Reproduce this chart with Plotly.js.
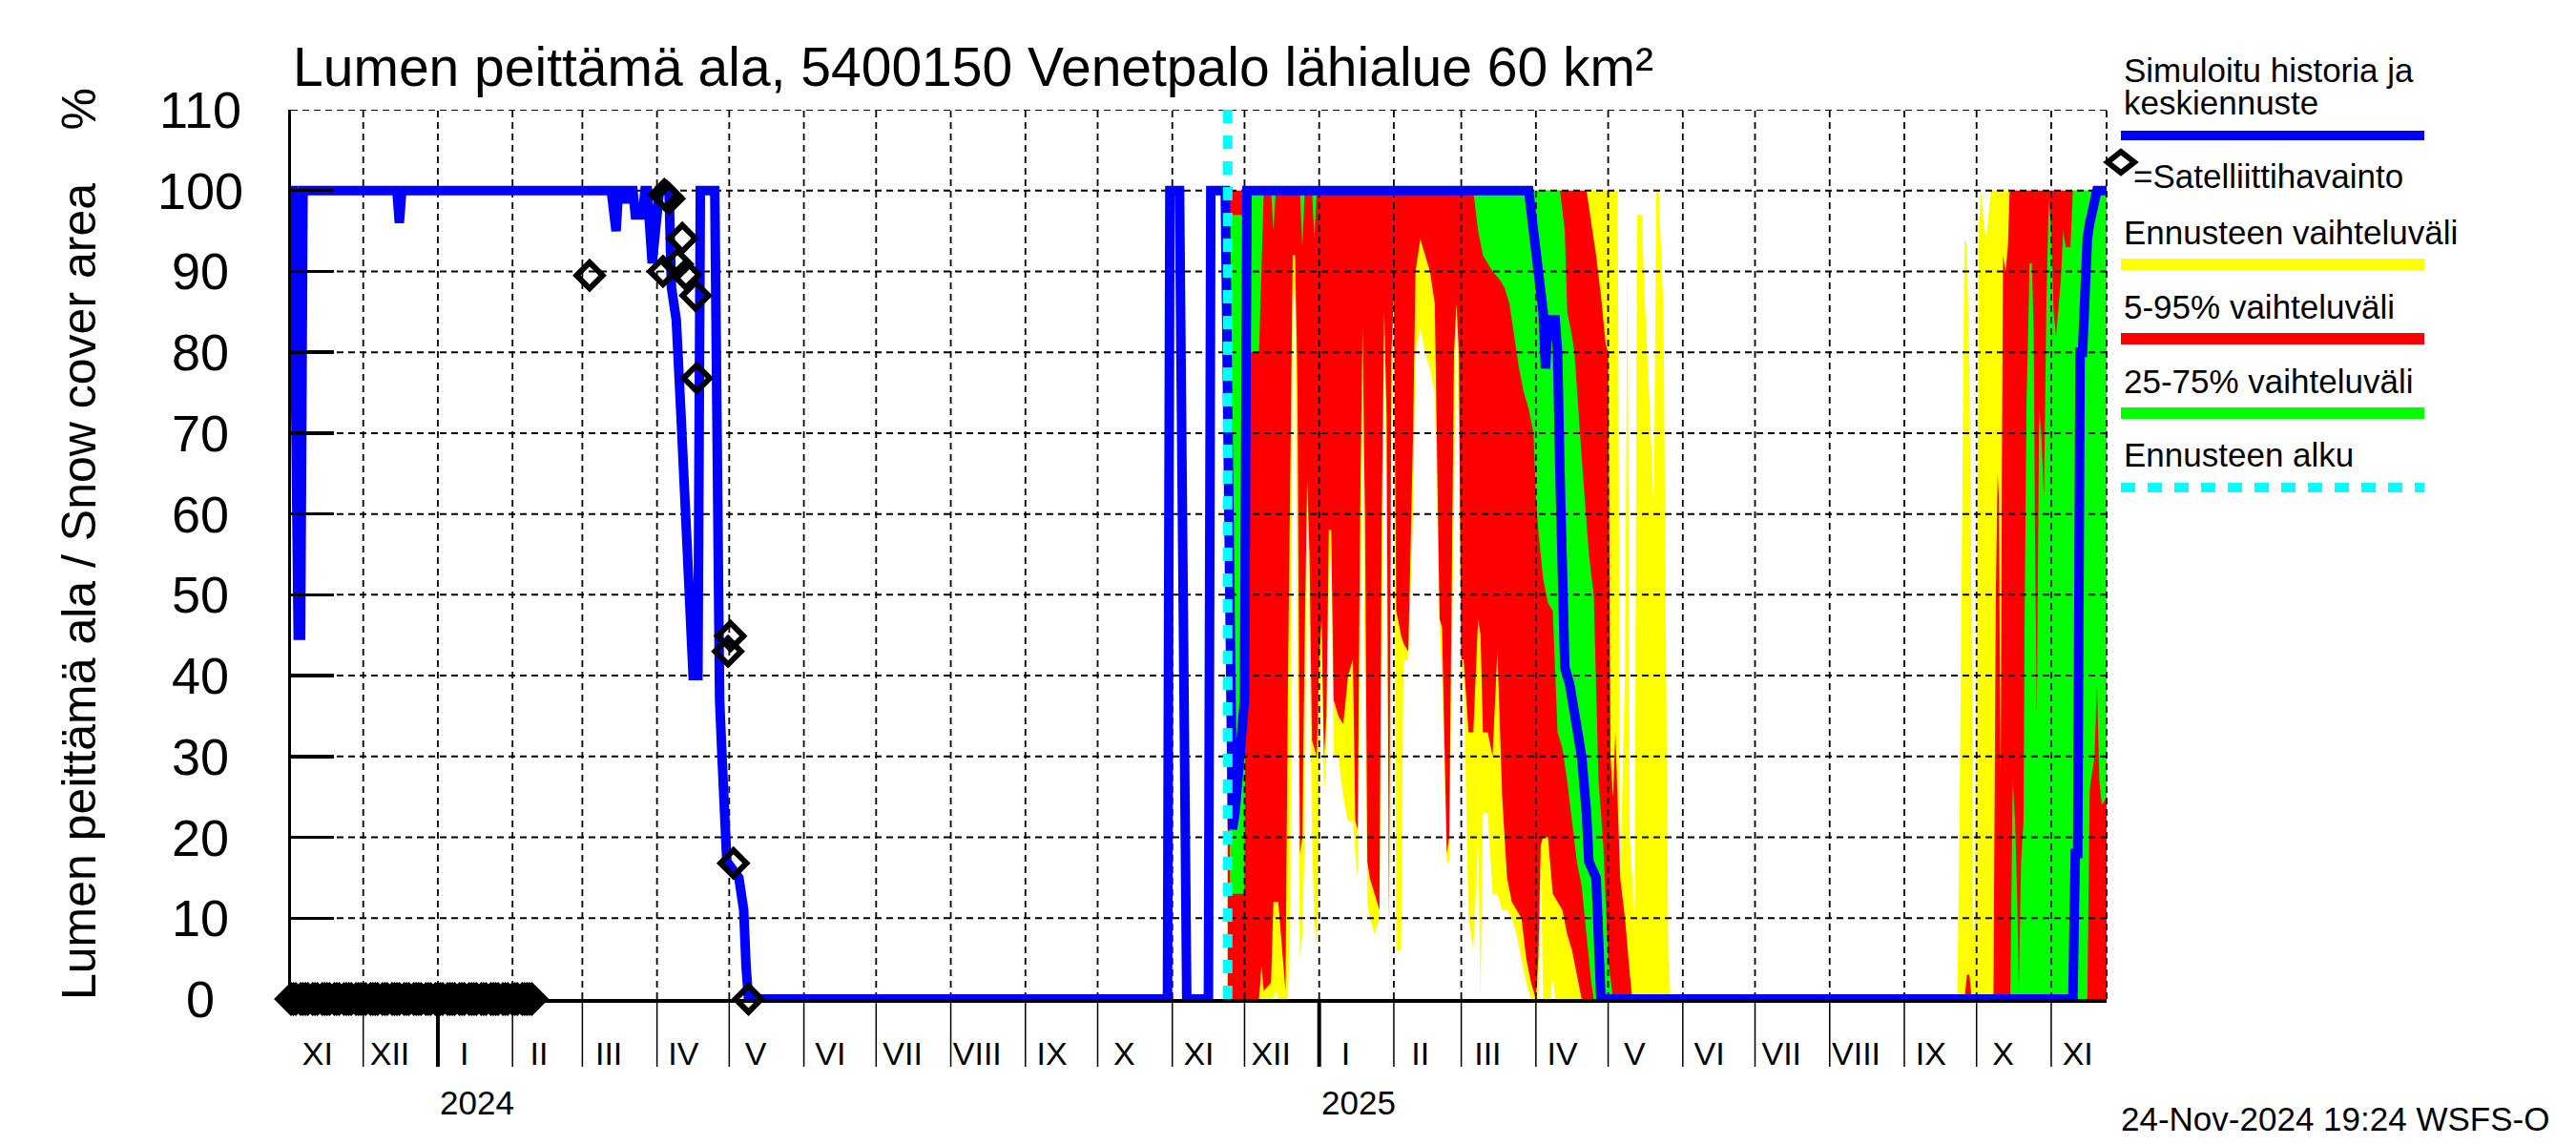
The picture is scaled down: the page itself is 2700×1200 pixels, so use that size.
<!DOCTYPE html>
<html><head><meta charset="utf-8">
<script src="https://cdn.plot.ly/plotly-3.0.1.min.js"></script>
<style>html,body{margin:0;padding:0;background:#fff}</style>
</head><body>
<div id="chart" style="width:2700px;height:1200px"></div>
<script>
// ---------- axis / labels ----------
const xStart = '2023-11-01';
const xEnd = '2025-11-24';
const forecastStart = '2024-11-24';
const monthLabels = ['XI','XII','I','II','III','IV','V','VI','VII','VIII','IX','X','XI','XII','I','II','III','IV','V','VI','VII','VIII','IX','X','XI'];
const yearLabels = ['2024','2025'];
const yearStarts = ['2024-01-01','2025-01-01'];
const yTicks = [0,10,20,30,40,50,60,70,80,90,100,110];
const titleText = 'Lumen peittämä ala, 5400150 Venetpalo lähialue 60 km²';
const yTitleText = 'Lumen peittämä ala / Snow cover area\u00a0\u00a0\u00a0\u00a0%';
const stampText = '24-Nov-2024 19:24 WSFS-O';
const legendTexts = ['Simuloitu historia ja','keskiennuste','=Satelliittihavainto','Ennusteen vaihteluväli','5-95% vaihteluväli','25-75% vaihteluväli','Ennusteen alku'];

// ---------- simulated history + median forecast ----------
const historySeries = [
['2023-11-01',100],['2023-11-02',100],['2023-11-04',45],['2023-11-05',45],['2023-11-06',100],
['2023-12-15',100],['2023-12-16',96],['2023-12-17',100],
['2024-03-13',100],['2024-03-15',95],['2024-03-16',100],['2024-03-18',100],['2024-03-19',98.5],['2024-03-20',100],
['2024-03-22',100],['2024-03-23',97],['2024-03-26',97],['2024-03-27',100],['2024-03-28',100],['2024-03-30',91],
['2024-04-02',100],['2024-04-06',100],['2024-04-07',88],['2024-04-09',84],['2024-04-11',72],['2024-04-13',58],
['2024-04-15',48],['2024-04-16',40],['2024-04-18',40],['2024-04-19',100],['2024-04-25',100],['2024-04-26',45],
['2024-04-27',37],['2024-04-28',30],['2024-04-29',23],['2024-04-30',17],['2024-05-05',15],['2024-05-07',11],
['2024-05-08',4],['2024-05-09',0],
['2024-10-30',0],['2024-10-31',100],['2024-11-04',100],['2024-11-07',0],['2024-11-16',0],['2024-11-17',100],
['2024-11-23',100],['2024-11-24',75]
];
const medianSeries = [
['2024-11-24',75],['2024-11-26',21],['2024-11-27',23],['2024-11-30',35],['2024-12-01',37],['2024-12-02',100],
['2025-03-29',100],['2025-03-31',95],['2025-04-02',89],['2025-04-04',85],['2025-04-05',78],['2025-04-06',84],
['2025-04-09',84],['2025-04-10',80],['2025-04-11',65],['2025-04-12',50],['2025-04-13',41],['2025-04-15',39],
['2025-04-17',35],['2025-04-20',30],['2025-04-22',23],['2025-04-23',17],['2025-04-26',15],['2025-04-27',8],
['2025-04-28',0],['2025-11-10',0],['2025-11-11',18],['2025-11-12',18],['2025-11-12 12:00',58],['2025-11-13',80],
['2025-11-14',80],['2025-11-15',88],['2025-11-16',94],['2025-11-17',96],['2025-11-19',99],['2025-11-20',100],
['2025-11-24',100]
];

// ---------- satellite observations ----------
const obsZeroDates = [
'2023-11-01','2023-11-02','2023-11-03','2023-11-05','2023-11-06','2023-11-07','2023-11-08','2023-11-10','2023-11-11','2023-11-12',
'2023-11-14','2023-11-15','2023-11-16','2023-11-17','2023-11-19','2023-11-20','2023-11-21','2023-11-23','2023-11-24','2023-11-25',
'2023-11-26','2023-11-28','2023-11-29','2023-11-30','2023-12-01','2023-12-02','2023-12-04','2023-12-05','2023-12-06','2023-12-07',
'2023-12-09','2023-12-10','2023-12-11','2023-12-13','2023-12-14','2023-12-15','2023-12-16','2023-12-18','2023-12-19','2023-12-20',
'2023-12-22','2023-12-23','2023-12-24','2023-12-25','2023-12-27','2023-12-28','2023-12-29','2023-12-31','2024-01-01','2024-01-02',
'2024-01-03','2024-01-05','2024-01-06','2024-01-07','2024-01-08','2024-01-10','2024-01-11','2024-01-12','2024-01-14','2024-01-15',
'2024-01-16','2024-01-17','2024-01-19','2024-01-20','2024-01-21','2024-01-23','2024-01-24','2024-01-25','2024-01-26','2024-01-28',
'2024-01-29','2024-01-30','2024-02-01','2024-02-02','2024-02-03','2024-02-05','2024-02-06','2024-02-07','2024-02-08','2024-02-09'
];
const obsZeroValues = obsZeroDates.map(() => 0);
const obsSpringSeries = [
['2024-03-04',89.5],['2024-04-03 12:00',90],['2024-04-04',99.5],['2024-04-05',99.3],['2024-04-06',99],
['2024-04-09 12:00',90.9],['2024-04-11 12:00',94.1],['2024-04-13',89.6],['2024-04-17',87],['2024-04-17 12:00',76.8],
['2024-04-30 12:00',43],['2024-05-01 12:00',44.9],['2024-05-02 18:00',16.8],['2024-05-09',0]
];

// ---------- forecast bands ----------
const minSeries = [
['2024-11-24',0],['2024-12-13',0],['2024-12-14',1],['2024-12-15',0],['2024-12-19',0],['2024-12-20',10],['2024-12-21',85],
['2024-12-22',88],['2024-12-23',40],['2024-12-24',5],['2024-12-25',8],['2024-12-26',20],['2024-12-27',62],['2024-12-28',45],
['2024-12-29',20],['2024-12-30',10],['2024-12-31',6],['2025-01-01',20],['2025-01-02',45],['2025-01-03',25],['2025-01-04',30],
['2025-01-05',50],['2025-01-06',56],['2025-01-07',30],['2025-01-09',30],['2025-01-11',25],['2025-01-13',22],['2025-01-15',22],
['2025-01-16',18],['2025-01-17',15],['2025-01-18',40],['2025-01-19',73],['2025-01-20',40],['2025-01-21',12],['2025-01-22',10],
['2025-01-24',8],['2025-01-26',10],['2025-01-27',40],['2025-01-28',84],['2025-01-29',60],['2025-01-30',5],['2025-01-31',70],
['2025-02-01',86],['2025-02-02',6],['2025-02-04',6],['2025-02-05',42],['2025-02-07',42],['2025-02-09',60],['2025-02-10',80],
['2025-02-12',83],['2025-02-14',80],['2025-02-16',78],['2025-02-18',75],['2025-02-20',46],['2025-02-21',40],['2025-02-23',17],
['2025-02-24',17],['2025-02-26',60],['2025-02-27',85],['2025-02-28',70],['2025-03-01',41],['2025-03-02',40],['2025-03-04',10],
['2025-03-06',6],['2025-03-08',20],['2025-03-09',0],['2025-03-10',23],['2025-03-12',23],['2025-03-14',13],['2025-03-16',13],
['2025-03-18',11],['2025-03-20',11],['2025-03-22',10],['2025-03-24',8],['2025-03-26',5],['2025-03-28',2],['2025-03-30',0],
['2025-04-02',0],['2025-04-03',17],['2025-04-04',0],['2025-04-07',0],['2025-04-08',3],['2025-04-09',0],['2025-11-24',0]
];
const p5Series = [
['2024-11-24',0],['2024-12-07',0],['2024-12-08',4],['2024-12-09',1],['2024-12-12',2],['2024-12-13',12],['2024-12-15',12],
['2024-12-16',8],['2024-12-18',1],['2024-12-19',38],['2024-12-20',65],['2024-12-21',92],['2024-12-22',92],['2024-12-23',75],
['2024-12-24',18],['2024-12-25',20],['2024-12-26',45],['2024-12-27',64],['2024-12-28',55],['2024-12-29',32],['2024-12-30',31],
['2024-12-31',30],['2025-01-01',42],['2025-01-02',47],['2025-01-03',30],['2025-01-04',35],['2025-01-05',58],['2025-01-06',58],
['2025-01-07',37],['2025-01-09',35],['2025-01-11',34],['2025-01-13',40],['2025-01-15',42],['2025-01-16',22],['2025-01-17',21],
['2025-01-18',60],['2025-01-19',83],['2025-01-20',60],['2025-01-21',17],['2025-01-22',15],['2025-01-24',13],['2025-01-26',11],
['2025-01-27',60],['2025-01-28',85],['2025-01-29',72],['2025-01-30',10],['2025-01-31',80],['2025-02-01',87],['2025-02-02',48],
['2025-02-04',45],['2025-02-05',44],['2025-02-07',43],['2025-02-09',70],['2025-02-10',90],['2025-02-12',94],['2025-02-14',92],
['2025-02-16',90],['2025-02-18',86],['2025-02-20',47],['2025-02-21',46],['2025-02-23',18],['2025-02-24',20],['2025-02-26',80],
['2025-02-27',86],['2025-02-28',80],['2025-03-01',42],['2025-03-02',42],['2025-03-04',33],['2025-03-06',33],['2025-03-08',47],
['2025-03-09',45],['2025-03-10',33],['2025-03-12',33],['2025-03-14',30],['2025-03-16',43],['2025-03-18',25],['2025-03-20',15],
['2025-03-22',12],['2025-03-24',11],['2025-03-26',10],['2025-03-28',5],['2025-03-30',2],['2025-04-01',0],['2025-04-02',5],
['2025-04-03',19],['2025-04-04',20],['2025-04-06',20],['2025-04-08',13],['2025-04-10',12],['2025-04-12',11],['2025-04-14',8],
['2025-04-16',6],['2025-04-18',3],['2025-04-20',0],['2025-11-24',0]
];
const p25Series = [
['2024-11-24',50],['2024-11-25',13],['2024-12-01',13],['2024-12-02',80],['2024-12-07',80],['2024-12-08',89],['2024-12-09',100],
['2024-12-12',100],['2024-12-13',95],['2024-12-14',100],['2024-12-24',100],['2024-12-25',93],['2024-12-26',100],['2024-12-29',100],
['2024-12-30',94],['2024-12-31',100],['2025-03-06',100],['2025-03-08',95],['2025-03-10',92],['2025-03-12',91],['2025-03-14',90],
['2025-03-17',89],['2025-03-19',88],['2025-03-21',86],['2025-03-23',82],['2025-03-25',78],['2025-03-27',75],['2025-03-29',73],
['2025-03-31',70],['2025-04-01',62],['2025-04-02',58],['2025-04-04',52],['2025-04-06',49],['2025-04-08',48],['2025-04-10',33],
['2025-04-12',31],['2025-04-14',27],['2025-04-16',22],['2025-04-18',17],['2025-04-20',14],['2025-04-22',8],['2025-04-24',2],
['2025-04-25',0],['2025-11-16',0],['2025-11-17',26],['2025-11-19',30],['2025-11-20',39],['2025-11-21',27],['2025-11-22',24],
['2025-11-24',25]
];
const p75Series = [
['2024-11-24',97],['2024-12-01',97],['2024-12-02',100],['2025-04-11',100],['2025-04-13',95],['2025-04-14',85],['2025-04-16',82],
['2025-04-17',80],['2025-04-20',67],['2025-04-23',55],['2025-04-25',50],['2025-04-26',38],['2025-04-27',27],['2025-04-29',19],
['2025-04-30',12],['2025-05-01',5],['2025-05-03',0],['2025-10-15',0],['2025-10-16',27],['2025-10-17',22],['2025-10-18',11],
['2025-10-18 12:00',1],['2025-10-19 12:00',17],['2025-10-20 12:00',22],['2025-10-21',48],['2025-10-21 18:00',74],
['2025-10-22 12:00',83],['2025-10-23',91],['2025-10-24',91],['2025-10-24 18:00',82],['2025-10-25 06:00',58],['2025-10-26',35],
['2025-10-27',73],['2025-10-28',69],['2025-10-29',62],['2025-10-30',86],['2025-10-31',99],['2025-11-01',95],['2025-11-02',85],
['2025-11-03',82],['2025-11-05',89],['2025-11-06',95],['2025-11-07',93],['2025-11-09',93],['2025-11-10',100],['2025-11-24',100]
];
const p95Series = [
['2024-11-24',100],['2025-04-22',100],['2025-04-24',96],['2025-04-26',92],['2025-04-28',87],['2025-04-30',81],['2025-05-01',80],
['2025-05-02',30],['2025-05-03',25],['2025-05-04',33],['2025-05-06',15],['2025-05-08',10],['2025-05-10',3],['2025-05-11',0],
['2025-09-26',0],['2025-09-27',3],['2025-09-28',3],['2025-09-29',0],['2025-10-08',0],['2025-10-08 12:00',20],['2025-10-09',50],
['2025-10-09 18:00',65],['2025-10-10 06:00',62],['2025-10-10 18:00',38],['2025-10-11',28],['2025-10-11 12:00',65],
['2025-10-12',92],['2025-10-13',90],['2025-10-14',93],['2025-10-14 18:00',100],['2025-11-24',100]
];
const maxSeries = [
['2024-11-24',100],['2025-05-05',100],['2025-05-06',15],['2025-05-08',40],['2025-05-09',92],['2025-05-10',20],['2025-05-12',10],
['2025-05-13',97],['2025-05-15',97],['2025-05-16',88],['2025-05-18',75],['2025-05-20',60],['2025-05-21',100],['2025-05-22',100],
['2025-05-24',85],['2025-05-25',50],['2025-05-26',5],['2025-05-27',0],['2025-09-23',0],['2025-09-24',24],['2025-09-25',62],
['2025-09-26',94],['2025-09-27',93],['2025-09-28',78],['2025-09-29',45],['2025-09-29 12:00',8],['2025-09-30 06:00',10],
['2025-09-30 18:00',37],['2025-10-01 12:00',72],['2025-10-02',96],['2025-10-03',100],['2025-10-04',96],['2025-10-05',94],
['2025-10-06',97],['2025-10-07',100],['2025-11-24',100]
];

// ---------- colours ----------
const C = {blue:'#0000ff', yellow:'#ffff00', red:'#ff0000', green:'#00ff00', cyan:'#00ffff', black:'#000000'};

// ---------- geometry helpers (pixel layout of the 2700x1200 figure) ----------
const M = {l:305, r:492, t:115, b:153};
const PW = 2700 - M.l - M.r, PH = 1200 - M.t - M.b;
const px = x => (x - M.l) / PW;
const py = y => (1200 - M.b - y) / PH;

const xs = s => s.map(p => p[0]);
const ys = s => s.map(p => p[1]);

const pad = n => String(n).padStart(2,'0');
const monthStarts = [], labelDates = [];
monthLabels.forEach((lab, i) => {
  const d = new Date(Date.UTC(2023, 10 + i, 1));
  const ym = d.getUTCFullYear() + '-' + pad(d.getUTCMonth() + 1);
  monthStarts.push(ym + '-01');
  labelDates.push(ym + '-12');
});

function band(low, high, color) {
  return [
    {x: xs(low), y: ys(low), type:'scatter', mode:'lines', line:{width:0, color:color}, hoverinfo:'skip', showlegend:false},
    {x: xs(high), y: ys(high), type:'scatter', mode:'lines', line:{width:0, color:color}, fill:'tonexty', fillcolor:color, hoverinfo:'skip', showlegend:false}
  ];
}

const hgx = [], hgy = [];
yTicks.filter(v => v > 0).forEach(v => { hgx.push(xStart, xEnd, null); hgy.push(v, v, null); });
const vgx = [], vgy = [];
monthStarts.slice(1).forEach(m => { vgx.push(m, m, null); vgy.push(0, 110, null); });

const blueSeries = historySeries.concat(medianSeries.slice(1));
const obsX = obsZeroDates.concat(xs(obsSpringSeries));
const obsY = obsZeroValues.concat(ys(obsSpringSeries));

const traces = [
  ...band(minSeries, maxSeries, C.yellow),
  ...band(p5Series, p95Series, C.red),
  ...band(p25Series, p75Series, C.green),
  {x: hgx, y: hgy, type:'scatter', mode:'lines', line:{color:'black', width:2, dash:'7px,5px'}, hoverinfo:'skip', showlegend:false},
  {x: vgx, y: vgy, type:'scatter', mode:'lines', line:{color:'black', width:1.8, dash:'7px,5px'}, hoverinfo:'skip', showlegend:false},
  {x: xs(blueSeries), y: ys(blueSeries), type:'scatter', mode:'lines', line:{color:C.blue, width:10}, cliponaxis:false, hoverinfo:'skip', showlegend:false},
  {x: obsX, y: obsY, type:'scatter', mode:'markers', cliponaxis:false,
   marker:{symbol:'diamond-open', size:21, color:C.black, line:{width:6, color:C.black}}, hoverinfo:'skip', showlegend:false}
];

const shapes = [];
monthStarts.slice(1).forEach(m => shapes.push({type:'line', xref:'x', yref:'paper', x0:m, x1:m, y0:0, y1:py(1118), line:{color:'black', width:1.5}}));
yearStarts.forEach(m => shapes.push({type:'line', xref:'x', yref:'paper', x0:m, x1:m, y0:0, y1:py(1118), line:{color:'black', width:4}}));
shapes.push({type:'line', xref:'paper', yref:'paper', x0:1, x1:1, y0:0, y1:1, line:{color:'black', width:1.8, dash:'7px,5px'}});
shapes.push({type:'line', xref:'x', yref:'paper', x0:forecastStart, x1:forecastStart, y0:0, y1:1, layer:'above', line:{color:C.cyan, width:10, dash:'14px,13px'}});
const lx0 = px(2223), lx1 = px(2541);
shapes.push({type:'line', xref:'paper', yref:'paper', x0:lx0, x1:lx1, y0:py(142), y1:py(142), line:{color:C.blue, width:10}});
shapes.push({type:'line', xref:'paper', yref:'paper', x0:lx0, x1:lx1, y0:py(277), y1:py(277), line:{color:C.yellow, width:12}});
shapes.push({type:'line', xref:'paper', yref:'paper', x0:lx0, x1:lx1, y0:py(355), y1:py(355), line:{color:C.red, width:12}});
shapes.push({type:'line', xref:'paper', yref:'paper', x0:lx0, x1:lx1, y0:py(433), y1:py(433), line:{color:C.green, width:12}});
shapes.push({type:'line', xref:'paper', yref:'paper', x0:lx0, x1:lx1, y0:py(511), y1:py(511), line:{color:C.cyan, width:10, dash:'15px,13px'}});
{
  const cx = px(2223), cy = py(170), dx = 14 / PW, dy = 11 / PH;
  shapes.push({type:'path', xref:'paper', yref:'paper',
    path:`M ${cx-dx},${cy} L ${cx},${cy+dy} L ${cx+dx},${cy} L ${cx},${cy-dy} Z`,
    line:{color:'black', width:6}, fillcolor:'rgba(0,0,0,0)'});
}

const F = 'Liberation Sans, Arial, Helvetica, sans-serif';
const annotations = [];
annotations.push({xref:'paper', yref:'paper', x:0, y:py(70), xanchor:'left', yanchor:'middle', text:titleText, showarrow:false, font:{size:57, family:F, color:'black'}});
annotations.push({xref:'paper', yref:'paper', x:px(83), y:py(570), xanchor:'center', yanchor:'middle', textangle:-90, text:yTitleText, showarrow:false, font:{size:50, family:F, color:'black'}});
yTicks.forEach(v => annotations.push({xref:'paper', yref:'y', x:px(210), y:v, xanchor:'center', yanchor:'middle', text:String(v), showarrow:false, font:{size:54, family:F, color:'black'}}));
yearLabels.forEach((t, i) => annotations.push({xref:'x', yref:'paper', x:yearStarts[i], y:py(1155), xanchor:'left', yanchor:'middle', text:t, showarrow:false, font:{size:35, family:F, color:'black'}}));
annotations.push({xref:'paper', yref:'paper', x:px(2221), y:py(1172), xanchor:'left', yanchor:'middle', text:stampText, showarrow:false, font:{size:35, family:F, color:'black'}});
const legY = [73, 107, 185, 244, 321, 399, 477];
const legX = [2224, 2224, 2234, 2224, 2224, 2224, 2224];
legendTexts.forEach((t, i) => annotations.push({xref:'paper', yref:'paper', x:px(legX[i]), y:py(legY[i]), xanchor:'left', yanchor:'middle', text:t, showarrow:false, font:{size:35, family:F, color:'black'}}));

const layout = {
  width:2700, height:1200,
  margin:{l:M.l, r:M.r, t:M.t, b:M.b, pad:0},
  paper_bgcolor:'white', plot_bgcolor:'white',
  showlegend:false,
  font:{family:F, color:'black'},
  xaxis:{type:'date', range:[xStart, xEnd], showgrid:false, zeroline:false,
    tickmode:'array', tickvals:labelDates, ticktext:monthLabels, ticks:'',
    tickfont:{size:34, family:F, color:'black'}, ticklabelstandoff:25,
    showline:true, linecolor:'black', linewidth:3.5, fixedrange:true},
  yaxis:{range:[0,110], tickmode:'array', tickvals:yTicks, showticklabels:false,
    ticks:'inside', ticklen:45, tickwidth:3.5, tickcolor:'black',
    showgrid:false, zeroline:false, showline:true, linecolor:'black', linewidth:3, fixedrange:true},
  shapes:shapes, annotations:annotations
};

Plotly.newPlot('chart', traces, layout, {displayModeBar:false, staticPlot:true});
</script>
</body></html>
